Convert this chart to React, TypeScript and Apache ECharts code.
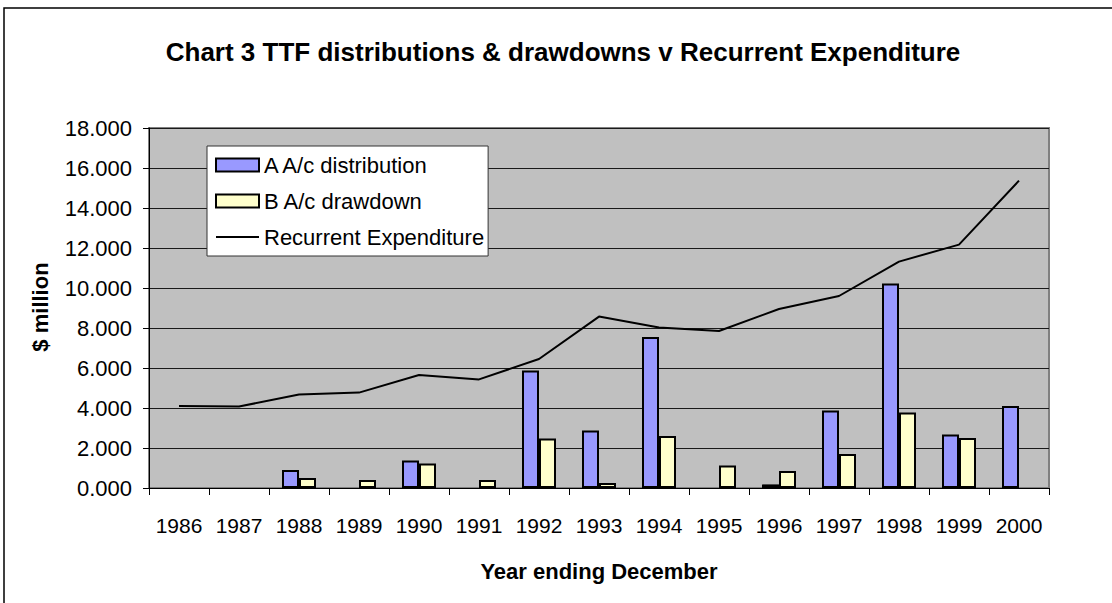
import React, { useEffect, useRef } from "react";
import * as echarts from "echarts";

const years = ["1986", "1987", "1988", "1989", "1990", "1991", "1992", "1993", "1994", "1995", "1996", "1997", "1998", "1999", "2000"];
const aDistribution = [null, null, 0.9, null, 1.37, null, 5.87, 2.87, 7.55, null, 0.18, 3.88, 10.22, 2.67, 4.1];
const bDrawdown = [null, null, 0.5, 0.4, 1.23, 0.4, 2.47, 0.25, 2.6, 1.12, 0.85, 1.7, 3.77, 2.5, null];
const recurrentExpenditure = [4.1, 4.07, 4.68, 4.77, 5.65, 5.43, 6.45, 8.57, 8.03, 7.85, 8.95, 9.6, 11.32, 12.17, 15.37];
const seriesNames = ["A A/c distribution", "B A/c drawdown", "Recurrent Expenditure"];
const titleText = "Chart 3 TTF distributions & drawdowns v Recurrent Expenditure";
const xAxisName = "Year ending December";
const yAxisName = "$ million";

const FONT = "'Liberation Sans', Arial, sans-serif";

export default function App() {
  const ref = useRef<HTMLDivElement>(null);
  useEffect(() => {
    if (!ref.current) return;
    const chart = echarts.init(ref.current, null, { renderer: "svg" });
    chart.setOption({
      animation: false,
      backgroundColor: "#ffffff",
      textStyle: { fontFamily: FONT },
      graphic: [
        {
          type: "rect",
          shape: { x: 4, y: 8, width: 1200, height: 700 },
          style: { fill: "none", stroke: "#000", lineWidth: 1.5 },
          silent: true,
        },
        {
          type: "text",
          x: 563,
          y: 52,
          style: {
            text: titleText,
            fontFamily: FONT,
            fontSize: 26,
            fontWeight: "bold",
            fill: "#000",
            align: "center",
            verticalAlign: "middle",
          },
        },
        {
          type: "text",
          x: 599,
          y: 571,
          style: {
            text: xAxisName,
            fontFamily: FONT,
            fontSize: 22,
            fontWeight: "bold",
            fill: "#000",
            align: "center",
            verticalAlign: "middle",
          },
        },
        {
          type: "text",
          x: 40,
          y: 307,
          rotation: Math.PI / 2,
          style: {
            text: yAxisName,
            fontFamily: FONT,
            fontSize: 22,
            fontWeight: "bold",
            fill: "#000",
            align: "center",
            verticalAlign: "middle",
          },
        },
      ],
      legend: {
        orient: "vertical",
        left: 207,
        top: 146,
        backgroundColor: "#ffffff",
        borderColor: "#333",
        borderWidth: 1,
        padding: [8, 4, 8, 8],
        itemWidth: 43,
        itemHeight: 13,
        itemGap: 14,
        data: [
          { name: seriesNames[0], icon: "rect" },
          { name: seriesNames[1], icon: "rect" },
          { name: seriesNames[2], itemStyle: { opacity: 0 }, lineStyle: { color: "#000", width: 2 } },
        ],
        textStyle: { fontFamily: FONT, fontSize: 22, color: "#000" },
      },
      grid: {
        left: 149,
        top: 128,
        width: 900,
        height: 360,
        show: true,
        backgroundColor: "#C0C0C0",
        borderColor: "#808080",
        borderWidth: 2,
      },
      xAxis: {
        type: "category",
        data: years,
        axisLine: { show: true, lineStyle: { color: "#000", width: 1 } },
        axisTick: { show: true, length: 7, lineStyle: { color: "#000" } },
        axisLabel: { interval: 0, fontSize: 21, color: "#000", margin: 27, fontFamily: FONT },
        splitLine: { show: false },
      },
      yAxis: {
        type: "value",
        min: 0,
        max: 18,
        interval: 2,
        axisLine: { show: true, lineStyle: { color: "#000", width: 1 } },
        axisTick: { show: true, length: 6, lineStyle: { color: "#000" } },
        axisLabel: {
          fontSize: 22,
          color: "#000",
          margin: 17,
          fontFamily: FONT,
          formatter: (v: number) => v.toFixed(3),
        },
        splitLine: { show: true, lineStyle: { color: "#1a1a1a", width: 1 } },
      },
      series: [
        {
          name: seriesNames[0],
          type: "bar",
          data: aDistribution,
          barWidth: 17,
          barGap: "0%",
          itemStyle: { color: "#9999FF", borderColor: "#000", borderWidth: 2 },
        },
        {
          name: seriesNames[1],
          type: "bar",
          data: bDrawdown,
          barWidth: 17,
          barGap: "0%",
          itemStyle: { color: "#FFFFCC", borderColor: "#000", borderWidth: 2 },
        },
        {
          name: seriesNames[2],
          type: "line",
          data: recurrentExpenditure,
          symbol: "none",
          z: 5,
          lineStyle: { color: "#000", width: 2 },
          itemStyle: { color: "#000" },
        },
      ],
    });
    return () => chart.dispose();
  }, []);
  return <div ref={ref} style={{ position: "fixed", left: 0, top: 0, width: 1112, height: 603 }} />;
}
